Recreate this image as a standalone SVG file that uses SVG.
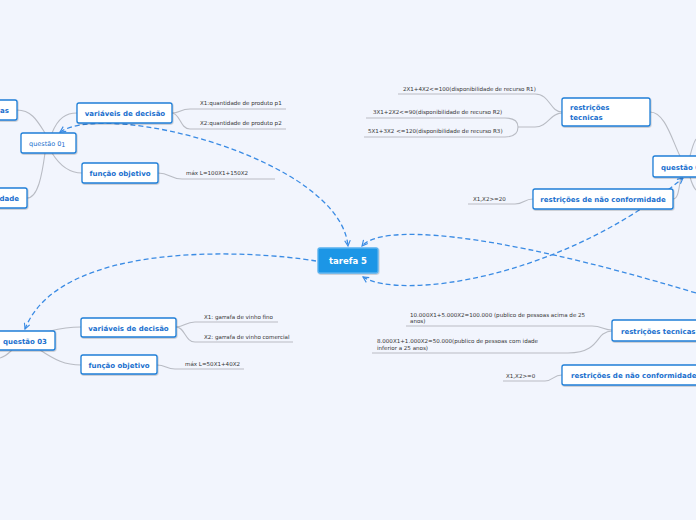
<svg xmlns="http://www.w3.org/2000/svg" width="696" height="520" viewBox="0 0 696 520">
<style>
.bg{fill:#f2f5fd}
.n rect{fill:#fff;stroke:#1f7fd8;stroke-width:1.3}
.n text{font-family:"DejaVu Sans",sans-serif;font-size:7px;font-weight:bold;fill:#1a6fce}
.lbl{font-family:"DejaVu Sans",sans-serif;font-size:5.55px;fill:#333}
.g{fill:none;stroke:#b9bcc4;stroke-width:1.1}
.d{fill:none;stroke:#3a8be4;stroke-width:1.3;stroke-dasharray:5,3}
</style>
<defs>
<marker id="ar" viewBox="0 0 10 10" refX="9" refY="5" markerWidth="7" markerHeight="7" orient="auto-start-reverse" markerUnits="userSpaceOnUse">
<path d="M1,1 L9,5 L1,9" fill="none" stroke="#3a8be4" stroke-width="1.6"/>
</marker>
<filter id="sh" x="-10%" y="-20%" width="120%" height="150%"><feDropShadow dx="0.6" dy="0.8" stdDeviation="0.6" flood-color="#000" flood-opacity="0.25"/></filter>
</defs>
<rect class="bg" x="0" y="0" width="696" height="520"/>

<g id="connectors">
<!-- questao 01 -->
<path class="g" d="M17,110 C32,110 38,122 45,133"/>
<path class="g" d="M45,153 C42,175 38,198 27,198"/>
<path class="g" d="M52,133 C58,118 66,113 77,113"/>
<path class="g" d="M52,153 C60,166 70,173 82,173"/>
<path class="g" d="M172,113 C180,113 180,109 190,109 L286,109"/>
<path class="g" d="M172,113 C180,113 180,129 190,129 L286,129"/>
<path class="g" d="M158,173 C170,173 170,179 182,179 L275,179"/>
<!-- questao 02 -->
<path class="g" d="M650,112 C665,112 672,140 680,156"/>
<path class="g" d="M673,199 C679,199 679,185 681,177"/>
<path class="g" d="M690,156 C692,148 694,142 696,139"/>
<path class="g" d="M690,177 C692,184 694,188 696,190"/>
<path class="g" d="M398,94 L535,94 C550,94 550,112 562,112"/>
<path class="g" d="M366,118 L505,118 C515,118 518,122 518,127 C518,132 515,137 505,137 L364,137"/>
<path class="g" d="M518,127 L535,127 C548,127 550,113 562,113"/>
<path class="g" d="M468,204 L515,204 C524,204 524,199 533,199"/>
<!-- questao 04 -->
<path class="g" d="M406,326 L592,326 C602,326 604,330 612,330"/>
<path class="g" d="M372,353 L568,353 C595,353 597,338 603,334 C606,332 609,331 612,331"/>
<path class="g" d="M503,381 L545,381 C553,381 553,375 562,375"/>
<!-- questao 03 -->
<path class="g" d="M50,331 C62,328 70,327 81,327"/>
<path class="g" d="M40,350 C55,360 65,365 81,365"/>
<path class="g" d="M12,350 C8,354 4,357 0,358"/>
<path class="g" d="M176,327 C185,327 185,322 195,322 L278,322"/>
<path class="g" d="M176,327 C185,327 185,342 195,342 L293,342"/>
<path class="g" d="M157,365 C166,365 166,369 175,369 L244,369"/>
<!-- dashed relationships -->
<path class="d" d="M60,132 C110,100 340,160 348,246" marker-start="url(#ar)" marker-end="url(#ar)"/>
<path class="d" d="M316,261 C250,250 60,240 25,329" marker-end="url(#ar)"/>
<path class="d" d="M696,293 C480,228 380,225 362,246" marker-end="url(#ar)"/>
<path class="d" d="M363,277 C400,300 560,280 683,178" marker-start="url(#ar)" marker-end="url(#ar)"/>
</g>

<g id="n-as" class="n"><rect x="-5" y="100" width="22" height="20" rx="2" filter="url(#sh)"/><text x="9" y="113" text-anchor="end">as</text></g>
<g id="n-dade" class="n"><rect x="-5" y="188" width="32" height="20" rx="2" filter="url(#sh)"/><text x="19" y="200.5" text-anchor="end">dade</text></g>
<g id="n-q01" class="n"><rect x="21" y="133" width="55" height="20" rx="2" filter="url(#sh)"/><text x="29" y="145.5" style="font-weight:normal;font-size:6.5px">questão 0<tspan dy="1">1</tspan></text></g>
<g id="n-var1" class="n"><rect x="77" y="103" width="95" height="20" rx="2" filter="url(#sh)"/><text x="125" y="116" text-anchor="middle">variáveis de decisão</text></g>
<g id="n-fun1" class="n"><rect x="82" y="163" width="76" height="20" rx="2" filter="url(#sh)"/><text x="120" y="176" text-anchor="middle">função objetivo</text></g>
<g id="l-q01">
<text class="lbl" x="200" y="105">X1:quantidade de produto p1</text>
<text class="lbl" x="200" y="125">X2:quantidade de produto p2</text>
<text class="lbl" x="186" y="175">máx L=100X1+150X2</text>
</g>

<g id="n-tarefa" class="n"><rect x="318" y="248" width="60" height="25" rx="2" style="fill:#1a96e6;stroke:#5ab2ef" filter="url(#sh)"/><text x="348" y="264" text-anchor="middle" style="fill:#fff;font-size:8.5px">tarefa 5</text></g>

<g id="n-rt2" class="n"><rect x="562" y="98" width="88" height="28" rx="2" filter="url(#sh)"/><text x="570" y="110">restrições</text><text x="570" y="120">tecnicas</text></g>
<g id="n-q02" class="n"><rect x="653" y="156" width="50" height="21" rx="2" filter="url(#sh)"/><text x="661" y="169.5">questão 02</text></g>
<g id="n-rn2" class="n"><rect x="533" y="189" width="140" height="20" rx="2" filter="url(#sh)"/><text x="603" y="202" text-anchor="middle">restrições de não conformidade</text></g>
<g id="l-q02">
<text class="lbl" x="403" y="91">2X1+4X2&lt;=100(disponibilidade de recurso R1)</text>
<text class="lbl" x="373" y="114">3X1+2X2&lt;=90(disponibilidade de recurso R2)</text>
<text class="lbl" x="368" y="133">5X1+3X2 &lt;=120(disponibilidade de recurso R3)</text>
<text class="lbl" x="473" y="201">X1,X2&gt;=20</text>
</g>

<g id="n-rt4" class="n"><rect x="612" y="320" width="90" height="21" rx="2" filter="url(#sh)"/><text x="621" y="333.5">restrições tecnicas</text></g>
<g id="n-rn4" class="n"><rect x="562" y="365" width="140" height="20" rx="2" filter="url(#sh)"/><text x="571" y="378">restrições de não conformidade</text></g>
<g id="l-q04">
<text class="lbl" x="410" y="316.5">10.000X1+5.000X2=100.000 (publico de pessoas acima de 25</text>
<text class="lbl" x="410" y="323">anos)</text>
<text class="lbl" x="377" y="343">8.000X1+1.000X2=50.000(publico de pessoas com idade</text>
<text class="lbl" x="377" y="349.5">inferior a 25 anos)</text>
<text class="lbl" x="506" y="377.5">X1,X2&gt;=0</text>
</g>

<g id="n-q03" class="n"><rect x="-5" y="331" width="60" height="19" rx="2" filter="url(#sh)"/><text x="3" y="343.5">questão 03</text></g>
<g id="n-var3" class="n"><rect x="81" y="318" width="95" height="19" rx="2" filter="url(#sh)"/><text x="128.5" y="330.5" text-anchor="middle">variáveis de decisão</text></g>
<g id="n-fun3" class="n"><rect x="81" y="355" width="76" height="19" rx="2" filter="url(#sh)"/><text x="119" y="367.5" text-anchor="middle">função objetivo</text></g>
<g id="l-q03">
<text class="lbl" x="204" y="318.5">X1: garrafa de vinho fino</text>
<text class="lbl" x="204" y="338.5">X2: garrafa de vinho comercial</text>
<text class="lbl" x="185" y="366">máx L=50X1+40X2</text>
</g>
</svg>
